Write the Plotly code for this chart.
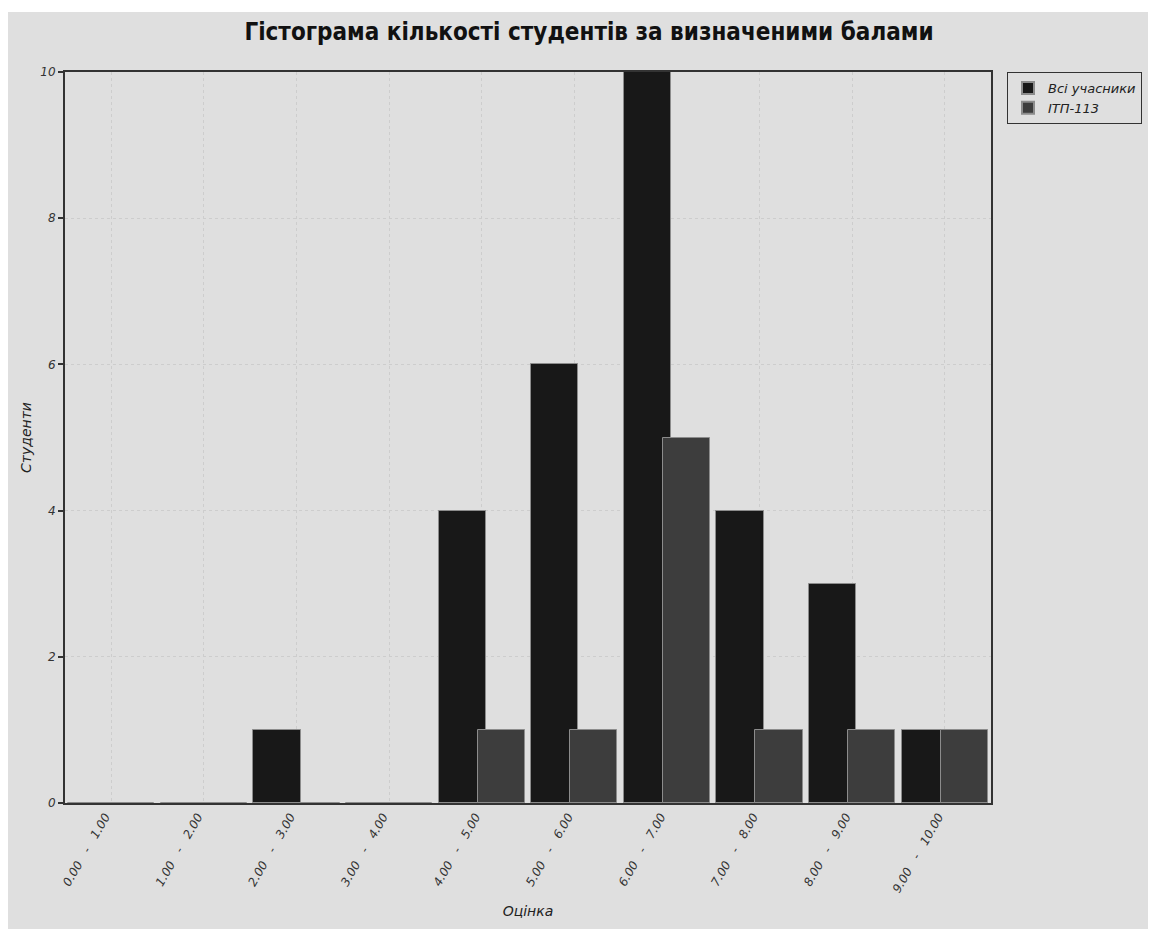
import plotly.graph_objects as go

categories = ["0.00 - 1.00", "1.00 - 2.00", "2.00 - 3.00", "3.00 - 4.00", "4.00 - 5.00",
              "5.00 - 6.00", "6.00 - 7.00", "7.00 - 8.00", "8.00 - 9.00", "9.00 - 10.00"]
all_students = [0, 0, 1, 0, 4, 6, 10, 4, 3, 1]
itp_113 = [0, 0, 0, 0, 1, 1, 5, 1, 1, 1]
y_ticks = [0, 2, 4, 6, 8, 10]

# wider spacing around the dash, as in the original rendering
tick_text = [c.replace(" - ", "\u2003-\u2003") for c in categories]

BG = "#DFDFDF"
FONT = "DejaVu Sans"

# page body has an 8px margin, so figure coords = screen coords - 8
W, H = 1148, 921
L, R, T, B = 57, 983, 64, 795
pw, ph = R - L, B - T

fig = go.Figure()
fig.add_trace(go.Bar(
    x=categories, y=all_students, name="Всі учасники",
    marker=dict(color="#181818", line=dict(color="#8c8c8c", width=1)),
    width=0.51, offset=-0.465,
))
fig.add_trace(go.Bar(
    x=categories, y=itp_113, name="ІТП-113",
    marker=dict(color="#3d3d3d", line=dict(color="#8c8c8c", width=1)),
    width=0.51, offset=-0.045,
))

fig.update_layout(
    width=W, height=H,
    barmode="overlay",
    paper_bgcolor=BG,
    plot_bgcolor=BG,
    margin=dict(l=L, r=W - R, t=T, b=H - B, autoexpand=False),
    title=dict(
        text="<b>Гістограма кількості студентів за визначеними балами</b>",
        x=581 / W, xanchor="center", y=1 - 24 / H, yanchor="middle",
        font=dict(family="DejaVu Sans Condensed, DejaVu Sans", size=24, color="#111111"),
    ),
    font=dict(family=FONT, color="#333333"),
    legend=dict(
        x=(999 - L) / pw, xanchor="left", y=1, yanchor="top",
        bgcolor=BG, bordercolor="#333333", borderwidth=1,
        font=dict(family=FONT, size=13, color="#222222", style="italic"),
        itemsizing="constant", tracegroupgap=0,
    ),
    shapes=[dict(
        type="rect", xref="paper", yref="paper", layer="below",
        x0=-L / pw - 0.01, x1=(W - L) / pw + 0.01,
        y0=(B - 4) / ph, y1=B / ph + 0.01,
        fillcolor="white", line=dict(width=0),
    )],
    bargap=0,
)

fig.update_xaxes(
    type="category",
    tickmode="array", tickvals=categories, ticktext=tick_text,
    tickangle=-60, ticklabelshift=-6,
    tickfont=dict(family=FONT, size=12, color="#333333", style="italic"),
    showgrid=True, gridcolor="#cdcdcd", griddash="dot", gridwidth=1,
    showline=True, linecolor="#333333", linewidth=2, mirror=True,
    ticks="", automargin=False,
    title=dict(text="Оцінка", standoff=12,
               font=dict(family=FONT, size=14, color="#222222", style="italic")),
)
fig.update_yaxes(
    range=[0, 10], tickvals=y_ticks,
    tickfont=dict(family=FONT, size=12, color="#333333", style="italic"),
    showgrid=True, gridcolor="#cdcdcd", griddash="dot", gridwidth=1,
    zeroline=False,
    showline=True, linecolor="#333333", linewidth=2, mirror=True,
    ticks="outside", ticklen=5, tickcolor="#333333", tickwidth=2,
    automargin=False,
    title=dict(text="Студенти", standoff=5,
               font=dict(family=FONT, size=14, color="#222222", style="italic")),
)

fig.write_html("out.html")
